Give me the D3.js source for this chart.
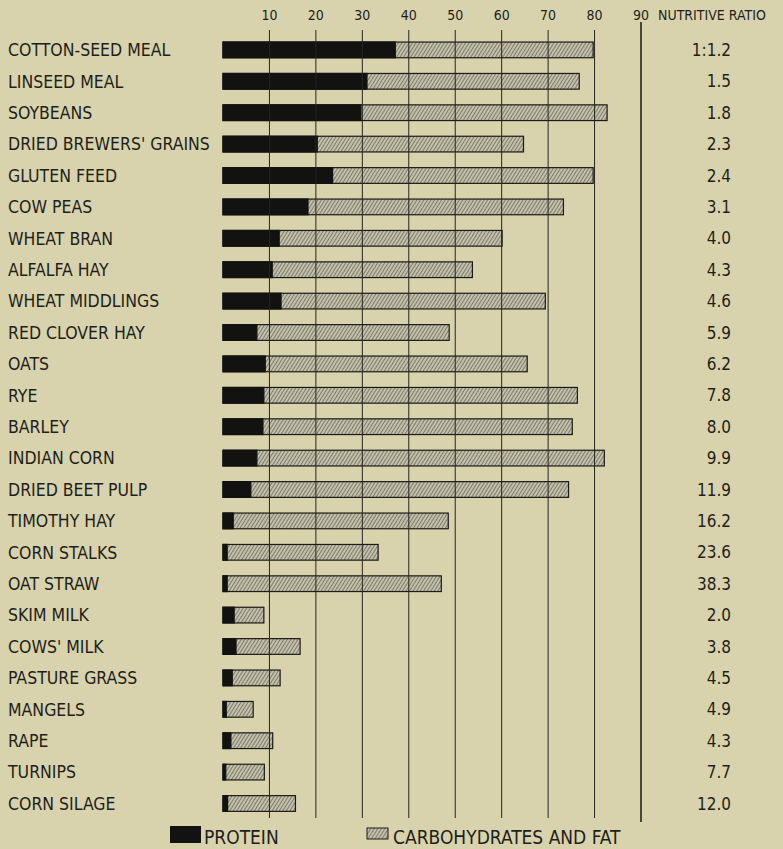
<!DOCTYPE html>
<html>
<head>
<meta charset="utf-8">
<script src="https://cdn.jsdelivr.net/npm/d3@7"></script>
<style>
  html, body { margin: 0; padding: 0; background: #d8d3ad; }
  svg { display: block; }
  text { font-family: "DejaVu Sans Condensed", "DejaVu Sans", sans-serif; fill: #1e1e1a; }
</style>
</head>
<body>
<svg id="chart" width="783" height="849"></svg>
<script>
// feeds, top to bottom
const feeds = ["COTTON-SEED MEAL", "LINSEED MEAL", "SOYBEANS", "DRIED BREWERS' GRAINS", "GLUTEN FEED",
  "COW PEAS", "WHEAT BRAN", "ALFALFA HAY", "WHEAT MIDDLINGS", "RED CLOVER HAY", "OATS", "RYE", "BARLEY",
  "INDIAN CORN", "DRIED BEET PULP", "TIMOTHY HAY", "CORN STALKS", "OAT STRAW", "SKIM MILK", "COWS' MILK",
  "PASTURE GRASS", "MANGELS", "RAPE", "TURNIPS", "CORN SILAGE"];

// digestible protein, per 100 lb
const protein = [37.1, 31.0, 29.7, 20.3, 23.6, 18.3, 12.1, 10.6, 12.5, 7.3, 9.1, 8.8, 8.6,
  7.3, 6.0, 2.2, 0.9, 0.9, 2.4, 2.8, 2.0, 0.7, 1.7, 0.6, 1.0];

// carbohydrates and fat, per 100 lb
const carbFat = [42.6, 45.7, 53.0, 44.4, 56.1, 55.0, 48.0, 43.1, 56.9, 41.4, 56.4, 67.5, 66.6,
  74.8, 68.4, 46.3, 32.5, 46.1, 6.4, 13.8, 10.3, 5.8, 9.0, 8.3, 14.6];

const ratios = ["1:1.2", "1.5", "1.8", "2.3", "2.4", "3.1", "4.0", "4.3", "4.6", "5.9", "6.2", "7.8", "8.0",
  "9.9", "11.9", "16.2", "23.6", "38.3", "2.0", "3.8", "4.5", "4.9", "4.3", "7.7", "12.0"];

const xTicks = [10, 20, 30, 40, 50, 60, 70, 80, 90];

const svg = d3.select("#chart");

// hatch for the carbohydrate part
const defs = svg.append("defs");
const pat = defs.append("pattern")
  .attr("id", "hatch")
  .attr("patternUnits", "userSpaceOnUse")
  .attr("width", 3).attr("height", 3)
  .attr("patternTransform", "rotate(32)");
pat.append("rect").attr("width", 3).attr("height", 3).attr("fill", "#c4c1aa");
pat.append("line").attr("x1", 0).attr("y1", 0).attr("x2", 0).attr("y2", 3)
  .attr("stroke", "#34332a").attr("stroke-width", 1);

const x = d3.scaleLinear().domain([0, 90]).range([223, 641]);
const y = d3.scaleBand().domain(feeds).range([34.2, 819.2]).paddingInner(0.5).paddingOuter(0.25);

const rows = feeds.map((f, i) => ({name: f, p: protein[i], c: carbFat[i], r: ratios[i]}));

// bars
const bar = svg.append("g").selectAll("g").data(rows).enter().append("g");
bar.append("rect")
  .attr("x", x(0))
  .attr("y", d => y(d.name))
  .attr("width", d => x(d.p + d.c) - x(0))
  .attr("height", y.bandwidth())
  .attr("fill", "url(#hatch)")
  .attr("stroke", "#1a1a16").attr("stroke-width", 1.2);
bar.append("rect")
  .attr("x", x(0))
  .attr("y", d => y(d.name))
  .attr("width", d => x(d.p) - x(0))
  .attr("height", y.bandwidth())
  .attr("fill", "#121210")
  .attr("stroke", "#121210").attr("stroke-width", 1.2);

// grid lines, drawn over the bars
svg.append("g").selectAll("line").data(xTicks).enter().append("line")
  .attr("x1", d => x(d)).attr("x2", d => x(d))
  .attr("y1", d => d == 90 ? 22 : 30)
  .attr("y2", d => d == 90 ? 822 : 818)
  .attr("stroke", "#26251f")
  .attr("stroke-width", d => d == 90 ? 1.6 : 1);

// top scale numbers
svg.append("g").selectAll("text").data(xTicks).enter().append("text")
  .attr("x", d => x(d)).attr("y", 20)
  .attr("text-anchor", "middle")
  .attr("font-size", 14)
  .text(d => d);

svg.append("text")
  .attr("x", 658).attr("y", 20)
  .attr("font-size", 14)
  .text("NUTRITIVE RATIO");

// feed names
svg.append("g").selectAll("text").data(rows).enter().append("text")
  .attr("x", 8)
  .attr("y", d => y(d.name) + y.bandwidth() / 2)
  .attr("dy", "0.36em")
  .attr("font-size", 17.5)
  .text(d => d.name);

// nutritive ratios
svg.append("g").selectAll("text").data(rows).enter().append("text")
  .attr("x", 731)
  .attr("y", d => y(d.name) + y.bandwidth() / 2)
  .attr("dy", "0.36em")
  .attr("text-anchor", "end")
  .attr("font-size", 17)
  .text(d => d.r);

// legend
const legend = svg.append("g");
legend.append("rect").attr("x", 170).attr("y", 826).attr("width", 31).attr("height", 17)
  .attr("fill", "#121210");
legend.append("text").attr("x", 204).attr("y", 844).attr("font-size", 19).text("PROTEIN");
legend.append("rect").attr("x", 367).attr("y", 828).attr("width", 21).attr("height", 11)
  .attr("fill", "url(#hatch)").attr("stroke", "#1a1a16");
legend.append("text").attr("x", 393).attr("y", 844).attr("font-size", 19).text("CARBOHYDRATES AND FAT");
</script>
</body>
</html>
